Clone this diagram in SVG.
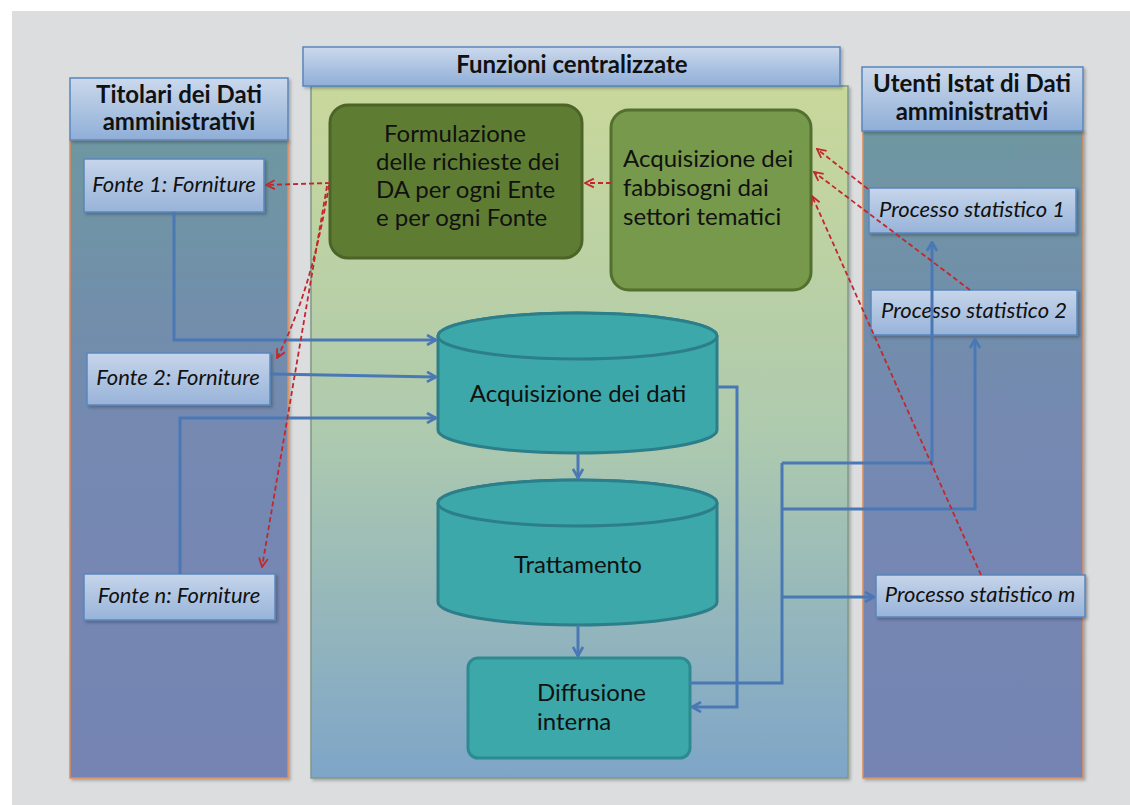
<svg xmlns="http://www.w3.org/2000/svg" width="1130" height="805" viewBox="0 0 1130 805">
<style>
  .hdr { font-family: Lato, "Liberation Sans", sans-serif; font-weight: bold; font-size: 24px; fill: #111; text-anchor: middle; }
  .box { stroke: #5a86bc; stroke-width: 1.5; fill: url(#gBox); }
  .itl { font-family: Lato, "Liberation Sans", sans-serif; font-style: italic; font-size: 22px; fill: #111; text-anchor: middle; }
  .txt { font-family: Lato, "Liberation Sans", sans-serif; font-size: 24px; fill: #111; }
  .cyl { fill: #3ca8a9; stroke: #2c7f8a; stroke-width: 3; }
  .blue { fill: none; stroke: #4a78b5; stroke-width: 3; }
  .red { fill: none; stroke: #c2282b; stroke-width: 1.8; stroke-dasharray: 5 3; }
</style>
<defs>
  <linearGradient id="gHdr" x1="0" y1="0" x2="0" y2="1">
    <stop offset="0" stop-color="#cbd9ec"/>
    <stop offset="1" stop-color="#8faed7"/>
  </linearGradient>
  <linearGradient id="gBox" x1="0" y1="0" x2="0" y2="1">
    <stop offset="0" stop-color="#c6d5ea"/>
    <stop offset="1" stop-color="#98b3d9"/>
  </linearGradient>
  <linearGradient id="gSide" x1="0" y1="0" x2="0" y2="1">
    <stop offset="0" stop-color="#6e97a1"/>
    <stop offset="0.45" stop-color="#7489b1"/>
    <stop offset="1" stop-color="#7584b3"/>
  </linearGradient>
  <linearGradient id="gCenter" x1="0" y1="0" x2="0" y2="1">
    <stop offset="0" stop-color="#c9d89b"/>
    <stop offset="0.5" stop-color="#aecaae"/>
    <stop offset="1" stop-color="#7ea5c8"/>
  </linearGradient>
  <filter id="sh" x="-10%" y="-10%" width="130%" height="130%">
    <feDropShadow dx="2" dy="2" stdDeviation="1.5" flood-color="#000" flood-opacity="0.25"/>
  </filter>
  <marker id="aBlue" viewBox="0 0 12 12" refX="11" refY="6" markerWidth="12" markerHeight="12" markerUnits="userSpaceOnUse" orient="auto">
    <path d="M2,1 L11,6 L2,11" fill="none" stroke="#4a78b5" stroke-width="2.6"/>
  </marker>
  <marker id="aRed" viewBox="0 0 10 10" refX="9" refY="5" markerWidth="11" markerHeight="11" markerUnits="userSpaceOnUse" orient="auto">
    <path d="M1,1 L9,5 L1,9" fill="none" stroke="#c2282b" stroke-width="1.6"/>
  </marker>
</defs>

<rect x="0" y="0" width="1130" height="805" fill="#ffffff"/>
<rect x="12" y="11" width="1118" height="794" fill="#dcdddf"/>

<g id="col-left">
  <rect x="70" y="140" width="218" height="638" fill="url(#gSide)" stroke="#de8c5a" stroke-width="1.5" filter="url(#sh)"/>
  <rect x="70" y="78" width="218" height="62" fill="url(#gHdr)" stroke="#5a86bc" stroke-width="1.5" filter="url(#sh)"/>
  <text class="hdr" x="179" y="103">Titolari dei Dati</text>
  <text class="hdr" x="179" y="130">amministrativi</text>
</g>

<g id="col-center">
  <rect x="311" y="86" width="537" height="692" fill="url(#gCenter)" stroke="#7f9a86" stroke-width="1.5" filter="url(#sh)"/>
  <rect x="303" y="47" width="537" height="39" fill="url(#gHdr)" stroke="#5a86bc" stroke-width="1.5" filter="url(#sh)"/>
  <text class="hdr" x="572" y="73">Funzioni centralizzate</text>
</g>

<g id="col-right">
  <rect x="863" y="131" width="220" height="647" fill="url(#gSide)" stroke="#de8c5a" stroke-width="1.5" filter="url(#sh)"/>
  <rect x="862" y="67" width="221" height="64" fill="url(#gHdr)" stroke="#5a86bc" stroke-width="1.5" filter="url(#sh)"/>
  <text class="hdr" x="972" y="92">Utenti Istat di Dati</text>
  <text class="hdr" x="972" y="120">amministrativi</text>
</g>

<g id="fonte1">
  <rect class="box" x="84" y="159" width="180" height="53" filter="url(#sh)"/>
  <text class="itl" x="174" y="192">Fonte 1: Forniture</text>
</g>
<g id="fonte2">
  <rect class="box" x="87" y="353" width="183" height="52" filter="url(#sh)"/>
  <text class="itl" x="178" y="385">Fonte 2: Forniture</text>
</g>
<g id="fonten">
  <rect class="box" x="84" y="574" width="191" height="46" filter="url(#sh)"/>
  <text class="itl" x="179" y="603">Fonte n: Forniture</text>
</g>

<g id="processo1">
  <rect class="box" x="869" y="188" width="207" height="45" filter="url(#sh)"/>
  <text class="itl" x="972" y="217">Processo statistico 1</text>
</g>
<g id="processo2">
  <rect class="box" x="871" y="290" width="206" height="45" filter="url(#sh)"/>
  <text class="itl" x="974" y="318">Processo statistico 2</text>
</g>
<g id="processom">
  <rect class="box" x="876" y="575" width="209" height="42" filter="url(#sh)"/>
  <text class="itl" x="980" y="602">Processo statistico m</text>
</g>

<g id="formulazione">
  <rect x="330" y="105" width="252" height="153" rx="18" fill="#5e7d33" stroke="#4a6527" stroke-width="3"/>
  <text class="txt" x="384" y="142">Formulazione</text>
  <text class="txt" x="376" y="170">delle richieste dei</text>
  <text class="txt" x="376" y="198">DA per ogni Ente</text>
  <text class="txt" x="376" y="226">e per ogni Fonte</text>
</g>

<g id="fabbisogni">
  <rect x="611" y="110" width="200" height="180" rx="18" fill="#77994b" stroke="#52702e" stroke-width="3"/>
  <text class="txt" x="623" y="167">Acquisizione dei</text>
  <text class="txt" x="623" y="196">fabbisogni dai</text>
  <text class="txt" x="623" y="225">settori tematici</text>
</g>

<g id="acquisizione-dati">
  <path class="cyl" d="M438,336 L438,430 A139.5,23 0 0 0 717,430 L717,336 A139.5,23 0 0 0 438,336 Z"/>
  <ellipse class="cyl" cx="577.5" cy="336" rx="139.5" ry="23"/>
  <text class="txt" x="578" y="402" text-anchor="middle">Acquisizione dei dati</text>
</g>

<g id="trattamento">
  <path class="cyl" d="M438,503 L438,602 A139.5,23 0 0 0 717,602 L717,503 A139.5,23 0 0 0 438,503 Z"/>
  <ellipse class="cyl" cx="577.5" cy="503" rx="139.5" ry="23"/>
  <text class="txt" x="578" y="573" text-anchor="middle">Trattamento</text>
</g>

<g id="diffusione">
  <rect x="468" y="658" width="222" height="100" rx="10" fill="#3ca8a9" stroke="#2c8a90" stroke-width="3"/>
  <text class="txt" x="537" y="701">Diffusione</text>
  <text class="txt" x="537" y="730">interna</text>
</g>

<g id="connectors">
  <path class="blue" d="M174,212 L174,340 L436,340" marker-end="url(#aBlue)"/>
  <path class="blue" d="M270,374 L436,377" marker-end="url(#aBlue)"/>
  <path class="blue" d="M180,574 L180,418 L436,418" marker-end="url(#aBlue)"/>
  <path class="blue" d="M578,453 L578,478" marker-end="url(#aBlue)"/>
  <path class="blue" d="M578,625 L578,656" marker-end="url(#aBlue)"/>
  <path class="blue" d="M717,387 L737,387 L737,707 L692,707" marker-end="url(#aBlue)"/>
  <path class="blue" d="M690,683 L782,683 L782,463"/>
  <path class="blue" d="M782,463 L932,463 L932,242" marker-end="url(#aBlue)"/>
  <path class="blue" d="M782,509 L975,509 L975,339" marker-end="url(#aBlue)"/>
  <path class="blue" d="M782,597 L874,597" marker-end="url(#aBlue)"/>

  <path class="red" d="M330,183 L266,185" marker-end="url(#aRed)"/>
  <path class="red" d="M329,185 Q312,290 277,358" marker-end="url(#aRed)"/>
  <path class="red" d="M327,186 L262,567" marker-end="url(#aRed)"/>
  <path class="red" d="M611,183 L585,183" marker-end="url(#aRed)"/>
  <path class="red" d="M868,189 L817,149" marker-end="url(#aRed)"/>
  <path class="red" d="M970,290 L814,172" marker-end="url(#aRed)"/>
  <path class="red" d="M981,575 L812,196" marker-end="url(#aRed)"/>
</g>
</svg>
